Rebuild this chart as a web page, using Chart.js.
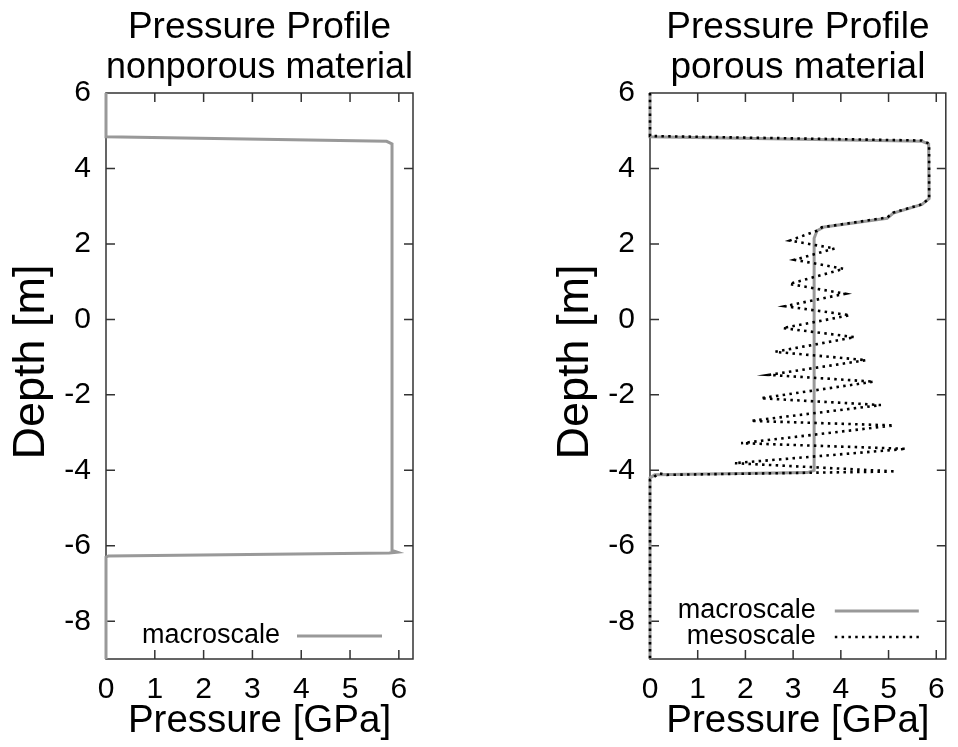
<!DOCTYPE html>
<html><head><meta charset="utf-8">
<script src="https://cdn.jsdelivr.net/npm/chart.js@4"></script>
<style>
html,body{margin:0;padding:0;background:#fff;}
#wrap{display:flex;width:958px;height:747px;}
canvas{display:block;}
</style>
</head><body>
<div id="wrap"><canvas id="c1" width="479" height="747"></canvas><canvas id="c2" width="479" height="747"></canvas></div>
<script>
// ---- data ----
const xTicks = [0, 1, 2, 3, 4, 5, 6];
const yTicks = [-8, -6, -4, -2, 0, 2, 4, 6];
const leftTitle = ['Pressure Profile', 'nonporous material'];
const rightTitle = ['Pressure Profile', 'porous material'];
const xLabel = 'Pressure [GPa]';
const yLabel = 'Depth [m]';
const seriesNames = ['macroscale', 'mesoscale'];

// left: nonporous, macroscale
const leftMacroX = [0, 0, 5.75, 5.86, 5.86, 5.86, 5.97, 5.8, 0.05, 0, 0];
const leftMacroY = [6, 4.84, 4.72, 4.65, 2.9, -6.12, -6.17, -6.19, -6.27, -6.3, -9];

// right: porous, macroscale
const rightMacroX = [0, 0, 5.7, 5.84, 5.85, 5.7, 5.1, 4.97, 3.65, 3.5, 3.44, 3.44, 3.3, 0.1, 0, 0];
const rightMacroY = [6, 4.84, 4.72, 4.65, 3.2, 3.05, 2.82, 2.68, 2.45, 2.35, 2.15, -4.0, -4.06, -4.12, -4.2, -9];

// right: porous, mesoscale
const rightMesoX = [0, 0, 5.7, 5.85, 5.85, 5.7, 5.1, 4.97, 3.6, 3.5,
  2.93, 3.87, 3.03, 4.06, 2.92, 4.09, 2.83, 4.19, 2.78, 4.29,
  2.62, 4.53, 2.49, 4.69, 2.32, 4.84, 2.11, 5.11, 1.91, 5.37,
  1.77, 5.15, 0.35, 0.2, 0.1, 0, 0];
const rightMesoY = [6, 4.86, 4.74, 4.66, 3.2, 3.05, 2.83, 2.7, 2.44, 2.35,
  2.09, 1.88, 1.58, 1.34, 0.94, 0.68, 0.35, 0.11, -0.23, -0.47,
  -0.86, -1.08, -1.47, -1.65, -2.09, -2.27, -2.69, -2.81, -3.28, -3.43,
  -3.81, -4.03, -4.12, -4.08, -4.16, -4.25, -9];

// ---- helpers ----
const FONT = '"Liberation Sans", Arial, Helvetica, sans-serif';
const pts = (xs, ys) => xs.map((x, i) => ({x: x, y: ys[i]}));

const framePlugin = {
  id: 'frame',
  beforeDatasetsDraw(chart) {
    const {ctx, chartArea: a, scales: {x, y}} = chart;
    const tl = 9;
    ctx.save();
    ctx.strokeStyle = '#333';
    ctx.lineWidth = 1.5;
    ctx.beginPath();
    ctx.rect(a.left, a.top, a.right - a.left, a.bottom - a.top);
    xTicks.forEach(v => {
      const px = x.getPixelForValue(v);
      ctx.moveTo(px, a.bottom); ctx.lineTo(px, a.bottom - tl);
      ctx.moveTo(px, a.top); ctx.lineTo(px, a.top + tl);
    });
    yTicks.forEach(v => {
      const py = y.getPixelForValue(v);
      ctx.moveTo(a.left, py); ctx.lineTo(a.left + tl, py);
      ctx.moveTo(a.right, py); ctx.lineTo(a.right - tl, py);
    });
    ctx.stroke();
    // y axis title (gnuplot places it slightly above the plot centre)
    const yt = chart.options.plugins.yTitle;
    ctx.save();
    ctx.translate(yt.x, (a.top + a.bottom) / 2 - yt.raise);
    ctx.rotate(-Math.PI / 2);
    ctx.font = yt.size + 'px ' + FONT;
    ctx.fillStyle = '#000';
    ctx.textAlign = 'center';
    ctx.textBaseline = 'middle';
    ctx.fillText(yt.text, 0, 0);
    ctx.restore();
    ctx.restore();
  },
  afterDatasetsDraw(chart) {
    const opt = chart.options.plugins.gnuLegend;
    if (!opt) return;
    const {ctx, chartArea: a} = chart;
    ctx.save();
    ctx.font = '27px ' + FONT;
    ctx.textAlign = 'right';
    ctx.textBaseline = 'middle';
    chart.data.datasets.forEach((ds, i) => {
      const yy = a.bottom - opt.bottom - (chart.data.datasets.length - 1 - i) * opt.row;
      const x1 = a.right - opt.right;
      const x0 = x1 - opt.len;
      ctx.fillStyle = '#000';
      ctx.fillText(ds.label, x0 - opt.gap, yy);
      ctx.beginPath();
      ctx.strokeStyle = ds.borderColor;
      ctx.lineWidth = ds.borderWidth;
      ctx.setLineDash(ds.borderDash || []);
      ctx.moveTo(x0, yy); ctx.lineTo(x1, yy);
      ctx.stroke();
      ctx.setLineDash([]);
    });
    ctx.restore();
  }
};

function makeChart(id, title, datasets, yWidth, padRight, xMax, legendOpt, yTitleX) {
  return new Chart(document.getElementById(id), {
    type: 'scatter',
    data: {datasets: datasets},
    plugins: [framePlugin],
    options: {
      responsive: false,
      animation: false,
      devicePixelRatio: 1,
      layout: {padding: {left: 0, right: padRight, top: 0, bottom: 0}},
      plugins: {
        legend: {display: false},
        tooltip: {enabled: false},
        title: {
          display: true, text: title, fullSize: false,
          color: '#000', font: {family: FONT, size: 37, weight: 'normal', lineHeight: 1.1},
          padding: {top: 7, bottom: 4.6}
        },
        gnuLegend: legendOpt,
        yTitle: {text: yLabel, x: yTitleX, raise: 14, size: 45}
      },
      scales: {
        x: {
          type: 'linear', min: 0, max: xMax,
          afterBuildTicks: s => { s.ticks = xTicks.map(v => ({value: v})); },
          afterFit: s => { s.height = 88; },
          grid: {display: false, drawTicks: false},
          border: {display: false},
          ticks: {autoSkip: false, maxRotation: 0, padding: 13, color: '#000',
                  font: {family: FONT, size: 30}},
          title: {display: true, text: xLabel, color: '#000', padding: {top: 0, bottom: 3},
                  font: {family: FONT, size: 38.5, lineHeight: 1.2}}
        },
        y: {
          type: 'linear', min: -9, max: 6,
          afterBuildTicks: s => { s.ticks = yTicks.map(v => ({value: v})); },
          afterFit: s => { s.width = yWidth; },
          grid: {display: false, drawTicks: false},
          border: {display: false},
          ticks: {autoSkip: false, padding: 15, color: '#000',
                  font: {family: FONT, size: 30}},
          title: {display: false}
        }
      },
      elements: {point: {radius: 0, hoverRadius: 0}, line: {tension: 0}}
    }
  });
}

const macroStyle = {borderColor: '#999999', borderWidth: 3, showLine: true, pointRadius: 0, fill: false, clip: 4};
const mesoStyle = {borderColor: '#000000', borderWidth: 2.6, borderDash: [2.5, 4.3], borderCapStyle: 'butt',
                   showLine: true, pointRadius: 0, fill: false, clip: 4};

makeChart('c1', leftTitle, [
  Object.assign({label: seriesNames[0], data: pts(leftMacroX, leftMacroY), order: 1}, macroStyle)
], 106, 66, 6.29, {right: 31, len: 85, gap: 17, bottom: 23, row: 26}, 32);

makeChart('c2', rightTitle, [
  Object.assign({label: seriesNames[0], data: pts(rightMacroX, rightMacroY), order: 1}, macroStyle),
  Object.assign({label: seriesNames[1], data: pts(rightMesoX, rightMesoY), order: 0}, mesoStyle)
], 171, 5, 6.2, {right: 27, len: 84, gap: 19, bottom: 22, row: 26}, 576 - 479);
</script>
</body></html>
